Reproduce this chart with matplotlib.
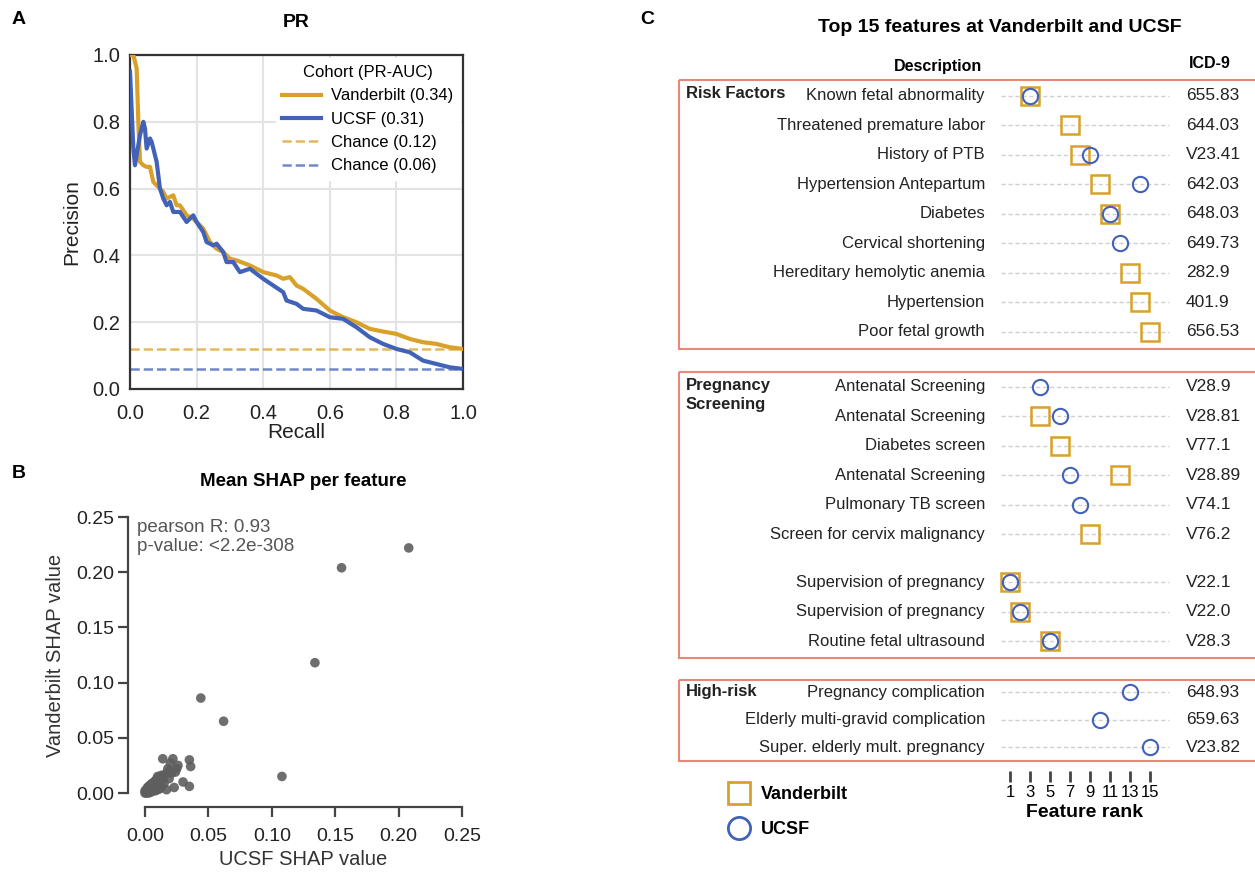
#!/usr/bin/env python
"""Three-panel figure: PR curves, SHAP agreement scatter, top-15 feature ranks."""
import matplotlib

matplotlib.use("Agg")
import matplotlib.pyplot as plt
from matplotlib.lines import Line2D
from matplotlib.patches import Rectangle
from matplotlib import transforms

plt.rcParams["font.family"] = ["Liberation Sans", "DejaVu Sans"]
NARROW = ["Liberation Sans Narrow", "Liberation Sans", "DejaVu Sans"]

W, H = 1255, 873
GOLD = "#d9a12a"
BLUE = "#4262b8"
BOXC = "#e8877a"

# ---- panel A: precision-recall curves
van_recall = [0.0, 0.01, 0.02, 0.025, 0.03, 0.04, 0.05, 0.06, 0.07, 0.08, 0.09, 0.1, 0.11, 0.12, 0.13,
              0.14, 0.15, 0.17, 0.19, 0.2, 0.22, 0.24, 0.26, 0.28, 0.3, 0.32, 0.36, 0.4, 0.44, 0.46,
              0.48, 0.5, 0.52, 0.56, 0.6, 0.64, 0.68, 0.72, 0.76, 0.8, 0.84, 0.88, 0.92, 0.96, 1.0]
van_prec = [1.0, 1.0, 0.96, 0.8, 0.68, 0.67, 0.665, 0.665, 0.62, 0.61, 0.6, 0.59, 0.57, 0.575, 0.58,
            0.55, 0.55, 0.52, 0.51, 0.5, 0.48, 0.44, 0.42, 0.41, 0.39, 0.385, 0.37, 0.35, 0.34, 0.33,
            0.335, 0.31, 0.3, 0.27, 0.235, 0.215, 0.2, 0.18, 0.172, 0.165, 0.15, 0.14, 0.135, 0.125, 0.12]
ucsf_recall = [0.0, 0.01, 0.015, 0.02, 0.03, 0.04, 0.045, 0.05, 0.06, 0.065, 0.08, 0.09, 0.1, 0.11,
               0.12, 0.13, 0.15, 0.17, 0.19, 0.2, 0.22, 0.23, 0.25, 0.26, 0.28, 0.29, 0.31, 0.33,
               0.36, 0.4, 0.43, 0.46, 0.47, 0.5, 0.52, 0.56, 0.6, 0.64, 0.68, 0.72, 0.76, 0.8, 0.84,
               0.88, 0.92, 0.96, 1.0]
ucsf_prec = [0.95, 0.72, 0.67, 0.7, 0.76, 0.8, 0.78, 0.72, 0.75, 0.74, 0.68, 0.6, 0.57, 0.55,
             0.56, 0.53, 0.53, 0.5, 0.52, 0.5, 0.47, 0.44, 0.43, 0.435, 0.41, 0.38, 0.38, 0.35,
             0.36, 0.33, 0.31, 0.29, 0.265, 0.255, 0.24, 0.235, 0.215, 0.21, 0.185, 0.155, 0.135,
             0.12, 0.11, 0.085, 0.075, 0.065, 0.06]
cohorts = ["Vanderbilt (0.34)", "UCSF (0.31)"]
chance = [0.12, 0.06]

# ---- panel B: mean SHAP per feature
ucsf_shap = [0.208, 0.155, 0.134, 0.044, 0.062, 0.108,
             0.014, 0.022, 0.035, 0.036, 0.026, 0.020, 0.018, 0.024, 0.030, 0.035, 0.023, 0.014,
             0.012, 0.017, 0.019, 0.016, 0.013, 0.011, 0.010, 0.009, 0.008, 0.007, 0.006, 0.005,
             0.004, 0.003, 0.002, 0.001, 0.0, 0.012, 0.010, 0.008, 0.006, 0.005, 0.004, 0.003,
             0.002, 0.001, 0.015, 0.013, 0.009, 0.007, 0.011, 0.003, 0.005, 0.002, 0.000, 0.001,
             0.021, 0.025, 0.019, 0.010, 0.008, 0.006, 0.004, 0.007, 0.009, 0.012, 0.002, 0.006]
van_shap = [0.222, 0.204, 0.118, 0.086, 0.065, 0.015,
            0.031, 0.031, 0.030, 0.024, 0.025, 0.027, 0.022, 0.019, 0.010, 0.006, 0.005, 0.012,
            0.008, 0.003, 0.020, 0.017, 0.016, 0.014, 0.012, 0.011, 0.010, 0.008, 0.007, 0.006,
            0.005, 0.004, 0.002, 0.001, 0.0, 0.004, 0.003, 0.002, 0.003, 0.001, 0.002, 0.000,
            0.001, 0.000, 0.009, 0.006, 0.005, 0.004, 0.010, 0.006, 0.008, 0.004, 0.002, 0.003,
            0.018, 0.022, 0.013, 0.015, 0.011, 0.009, 0.007, 0.009, 0.012, 0.014, 0.005, 0.004]

# ---- panel C: top features
groups = ["Risk Factors", "Pregnancy\nScreening", "High-risk"]
descriptions = ["Known fetal abnormality", "Threatened premature labor", "History of PTB",
                "Hypertension Antepartum", "Diabetes", "Cervical shortening",
                "Hereditary hemolytic anemia", "Hypertension", "Poor fetal growth",
                "Antenatal Screening", "Antenatal Screening", "Diabetes screen",
                "Antenatal Screening", "Pulmonary TB screen", "Screen for cervix malignancy",
                "Supervision of pregnancy", "Supervision of pregnancy", "Routine fetal ultrasound",
                "Pregnancy complication", "Elderly multi-gravid complication",
                "Super. elderly mult. pregnancy"]
icd9 = ["655.83", "644.03", "V23.41", "642.03", "648.03", "649.73", "282.9", "401.9", "656.53",
        "V28.9", "V28.81", "V77.1", "V28.89", "V74.1", "V76.2", "V22.1", "V22.0", "V28.3",
        "648.93", "659.63", "V23.82"]
van_rank = [3, 7, 8, 10, 11, None, 13, 14, 15,
            None, 4, 6, 12, None, 9, 1, 2, 5,
            None, None, None]
ucsf_rank = [3, None, 9, 14, 11, 12, None, None, None,
             4, 6, None, 7, 8, None, 1, 2, 5,
             13, 10, 15]
rank_ticks = [1, 3, 5, 7, 9, 11, 13, 15]


def px(left, top, right, bottom):
    return [left / W, 1 - bottom / H, (right - left) / W, (bottom - top) / H]


fig = plt.figure(figsize=(W / 100, H / 100), dpi=100)

# ================= A
ax = fig.add_axes(px(130, 55, 463, 389))
ax.plot(van_recall, van_prec, color=GOLD, lw=3, label=cohorts[0], zorder=3)
ax.plot(ucsf_recall, ucsf_prec, color=BLUE, lw=3, label=cohorts[1], zorder=3)
ax.axhline(chance[0], color=GOLD, lw=1.8, ls="--", alpha=0.75, label=f"Chance ({chance[0]:.2f})")
ax.axhline(chance[1], color=BLUE, lw=1.8, ls="--", alpha=0.75, label=f"Chance ({chance[1]:.2f})")
ax.set_xlim(0, 1)
ax.set_ylim(0, 1)
ax.set_xticks([0, 0.2, 0.4, 0.6, 0.8, 1.0])
ax.set_yticks([0, 0.2, 0.4, 0.6, 0.8, 1.0])
ax.grid(True, color="#e3e3e6", lw=1.5)
ax.set_axisbelow(True)
for s in ax.spines.values():
    s.set_color("#333333")
    s.set_linewidth(1.6)
ax.tick_params(axis="x", length=0, labelsize=14.5, pad=11, colors="#222222")
ax.tick_params(axis="y", length=0, labelsize=14.5, pad=7, colors="#222222")
ax.set_xlabel("Recall", fontsize=15, labelpad=0, color="#222222")
ax.set_ylabel("Precision", fontsize=15, labelpad=8, color="#222222")
ax.set_title("PR", fontsize=14, fontweight="bold", pad=20)
leg = ax.legend(loc="upper right", title="Cohort (PR-AUC)", fontsize=12, title_fontsize=12,
                frameon=True, facecolor="white", edgecolor="white", framealpha=1,
                handlelength=2.3, handletextpad=0.6, borderaxespad=0.2, labelspacing=0.5)
fig.text(12 / W, 1 - 20 / H, "A", fontsize=14, fontweight="bold", va="center")

# ================= B
bx = fig.add_axes(px(145, 517, 462, 793))
bx.scatter(ucsf_shap, van_shap, s=48, color="#5e5e5e", alpha=0.9, edgecolor="none", clip_on=False)
bx.set_xlim(0, 0.25)
bx.set_ylim(0, 0.25)
ticks_b = [0, 0.05, 0.10, 0.15, 0.20, 0.25]
bx.set_xticks(ticks_b)
bx.set_yticks(ticks_b)
bx.set_xticklabels([f"{t:.2f}" for t in ticks_b])
bx.set_yticklabels([f"{t:.2f}" for t in ticks_b])
for side in ["top", "right"]:
    bx.spines[side].set_visible(False)
bx.spines["left"].set_position(("outward", 12))
bx.spines["bottom"].set_position(("outward", 10))
for side in ["left", "bottom"]:
    bx.spines[side].set_color("#444444")
    bx.spines[side].set_linewidth(1.6)
bx.tick_params(length=7, width=1.6, labelsize=14, colors="#444444", labelcolor="#222222")
bx.tick_params(axis="x", pad=8)
bx.set_xlabel("UCSF SHAP value", fontsize=14.5, color="#333333", labelpad=4)
bx.set_ylabel("Vanderbilt SHAP value", fontsize=14.5, color="#333333", labelpad=8)
bx.set_title("Mean SHAP per feature", fontsize=13.5, fontweight="bold", pad=22)
bx.text(-0.025, 0.992, "pearson R: 0.93\np-value: <2.2e-308", transform=bx.transAxes,
        fontsize=13.5, color="#555555", va="top", linespacing=1.1)
fig.text(12 / W, 1 - 474 / H, "B", fontsize=14, fontweight="bold", va="center")

# ================= C
# vertical row layout (row units), groups separated by gaps
row_y = []
y = 0.0
for i in range(len(descriptions)):
    if i == 9:
        y += 1.86
    elif i == 15:
        y += 1.63
    elif i == 18:
        y += 1.73
    elif i > 0:
        y += 0.93 if i > 18 else 1.0
    row_y.append(y)

top_u = (80 - 96) / 29.5
bot_u = (771 - 96) / 29.5
cx = fig.add_axes(px(1000, 80, 1170, 771))
cx.set_xlim(0, 17)
cx.set_ylim(bot_u, top_u)
for yy in row_y:
    cx.axhline(yy, xmin=0.005, xmax=0.995, color="#cfcfcf", lw=1, dashes=(3, 2), zorder=1)
for yy, r in zip(row_y, van_rank):
    if r is not None:
        cx.plot(r, yy, marker="s", ms=13.5, mfc="none", mec=GOLD, mew=1.8, zorder=3)
for yy, r in zip(row_y, ucsf_rank):
    if r is not None:
        cx.plot(r, yy, marker="o", ms=11, mfc="none", mec=BLUE, mew=1.5, zorder=4)
for s in ["top", "right", "left", "bottom"]:
    cx.spines[s].set_visible(False)
cx.set_yticks([])
cx.set_xticks(rank_ticks)
cx.tick_params(axis="x", length=8, width=2, color="#444444", labelsize=12, pad=2)
for lbl in cx.get_xticklabels():
    lbl.set_family(NARROW)
cx.set_xlabel("Feature rank", fontsize=14, fontweight="bold", labelpad=3)

tr = transforms.blended_transform_factory(fig.transFigure, cx.transData)
for yy, d, c in zip(row_y, descriptions, icd9):
    cx.text(985 / W, yy, d, transform=tr, ha="right", va="center", fontsize=12, family=NARROW,
            color="#222222")
    cx.text(1186 / W, yy, c, transform=tr, ha="left", va="center", fontsize=12.5, family=NARROW,
            color="#222222")

# group boxes and labels
box_rows = [(0, 8), (9, 17), (18, 20)]
box_pad = [(0.54, 0.58), (0.5, 0.55), (0.44, 0.47)]
label_dy = [-0.1, 0.0, -0.05]
for g, ((a, b), (pt, pb)) in enumerate(zip(box_rows, box_pad)):
    y0 = row_y[a] - pt
    y1 = row_y[b] + pb
    cx.add_patch(Rectangle((679 / W, y0), 0.5, y1 - y0, transform=tr, fill=False,
                           edgecolor=BOXC, lw=1.5, clip_on=False, zorder=0))
    if "\n" in groups[g]:
        cx.text(686 / W, row_y[a] - 0.3, groups[g], transform=tr, ha="left", va="top",
                fontsize=12, fontweight="bold", family=NARROW, linespacing=1.3,
                color="#222222")
    else:
        cx.text(686 / W, row_y[a] + label_dy[g], groups[g], transform=tr, ha="left",
                va="center", fontsize=12, fontweight="bold", family=NARROW, color="#222222")

cx.text(938 / W, top_u - 0.45, "Description", transform=tr, ha="center", va="center",
        fontsize=11.5, fontweight="bold", family=NARROW)
cx.text(1210 / W, top_u - 0.55, "ICD-9", transform=tr, ha="center", va="center",
        fontsize=11.5, fontweight="bold", family=NARROW)
fig.text(1000 / W, 1 - 27 / H, "Top 15 features at Vanderbilt and UCSF", ha="center",
         va="center", fontsize=14, fontweight="bold")
fig.text(640 / W, 1 - 20 / H, "C", fontsize=14, fontweight="bold", va="center")

handles = [Line2D([], [], ls="none", marker="s", ms=16, mfc="none", mec=GOLD, mew=2),
           Line2D([], [], ls="none", marker="o", ms=16, mfc="none", mec=BLUE, mew=2)]
fig.legend(handles, ["Vanderbilt", "UCSF"], loc="upper left",
           bbox_to_anchor=(712 / W, 1 - 770 / H), frameon=False, handlelength=1.2,
           handletextpad=0.6, labelspacing=1.0,
           prop=dict(size=13, weight="bold"))

fig.savefig("out.png", dpi=100)
